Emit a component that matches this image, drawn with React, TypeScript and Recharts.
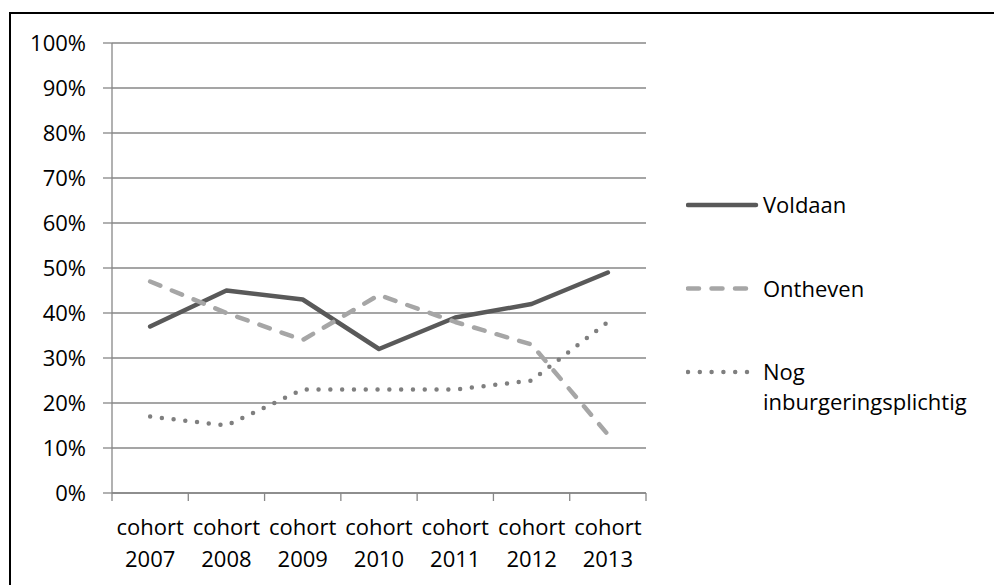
import React from 'react';
import { CartesianGrid, Line, LineChart, XAxis, YAxis } from 'recharts';

const cohorts = ['2007', '2008', '2009', '2010', '2011', '2012', '2013'];
const voldaan = [37, 45, 43, 32, 39, 42, 49];
const ontheven = [47, 40, 34, 44, 38, 33, 13];
const nogPlichtig = [17, 15, 23, 23, 23, 25, 38];
const yTicks = [0, 10, 20, 30, 40, 50, 60, 70, 80, 90, 100];

const FONT = '"Open Sans", sans-serif';
const GRID = '#878787';

const series = [
  { key: 'voldaan', name: 'Voldaan', color: '#595959', dash: undefined as string | undefined },
  { key: 'ontheven', name: 'Ontheven', color: '#a6a6a6', dash: '11 12.5' },
  { key: 'nog', name: 'Nog inburgeringsplichtig', color: '#7f7f7f', dash: '0 11.8' },
];

// each cohort sits in the middle of its slot; slot edges get the tick marks
const data = cohorts.map((year, i) => ({
  slot: i + 0.5,
  voldaan: voldaan[i],
  ontheven: ontheven[i],
  nog: nogPlichtig[i],
}));
const xTicks = [0, ...cohorts.flatMap((_, i) => [i + 0.5, i + 1])];

function CohortTick(props: any) {
  const { x, y, payload } = props;
  const v = Number(payload.value);
  if (Number.isInteger(v)) {
    return <line x1={x} x2={x} y1={y} y2={y + 8} stroke={GRID} strokeWidth={1.3} />;
  }
  const year = cohorts[Math.floor(v)];
  return (
    <text x={x} y={y} textAnchor="middle" fontFamily={FONT} fontSize={22} fill="#000">
      <tspan x={x} dy={42}>cohort</tspan>
      <tspan x={x} dy={32}>{year}</tspan>
    </text>
  );
}

function LegendBox() {
  const rows = [
    { s: series[0], lines: ['Voldaan'] },
    { s: series[1], lines: ['Ontheven'] },
    { s: series[2], lines: ['Nog', 'inburgeringsplichtig'] },
  ];
  return (
    <svg width={300} height={240} style={{ display: 'block' }}>
      {rows.map((r, i) => {
        const cy = 15 + i * 83.5;
        return (
          <g key={r.s.key}>
            <line
              x1={2}
              x2={70}
              y1={cy}
              y2={cy}
              stroke={r.s.color}
              strokeWidth={4.5}
              strokeLinecap="round"
              strokeDasharray={r.s.dash}
            />
            <text x={77} y={cy + 8} fontFamily={FONT} fontSize={22} fill="#000">
              {r.lines.map((t, j) => (
                <tspan key={t} x={77} dy={j === 0 ? 0 : 30}>
                  {t}
                </tspan>
              ))}
            </text>
          </g>
        );
      })}
    </svg>
  );
}

export default function App() {
  return (
    <div style={{ position: 'absolute', left: 0, top: 0, width: 994, height: 585, background: '#fff', overflow: 'hidden' }}>
      <div
        style={{
          position: 'absolute',
          left: 9,
          top: 12,
          width: 1000,
          height: 600,
          border: '2.5px solid #000',
          boxSizing: 'border-box',
        }}
      />
      <div style={{ position: 'absolute', left: 0, top: 0 }}>
        <LineChart width={994} height={585} data={data} margin={{ top: 43, right: 348, bottom: 22, left: 0 }}>
          <CartesianGrid horizontal vertical={false} stroke={GRID} strokeWidth={1.3} />
          <XAxis
            dataKey="slot"
            type="number"
            domain={[0, cohorts.length]}
            ticks={xTicks}
            interval={0}
            tickLine={false}
            tickSize={0}
            tickMargin={0}
            height={70}
            stroke={GRID}
            strokeWidth={1.3}
            tick={<CohortTick />}
          />
          <YAxis
            domain={[0, 100]}
            ticks={yTicks}
            width={112}
            tickSize={9}
            tickMargin={17}
            tickFormatter={(v: number) => `${v}%`}
            stroke={GRID}
            strokeWidth={1.3}
            tick={{ fill: '#000', fontFamily: FONT, fontSize: 22 }}
          />
          {series.map((s) => (
            <Line
              key={s.key}
              dataKey={s.key}
              name={s.name}
              stroke={s.color}
              strokeWidth={4.5}
              strokeDasharray={s.dash}
              strokeLinecap="round"
              strokeLinejoin="round"
              dot={false}
              activeDot={false}
              isAnimationActive={false}
            />
          ))}
        </LineChart>
      </div>
      <div style={{ position: 'absolute', left: 686, top: 190 }}>
        <LegendBox />
      </div>
    </div>
  );
}
